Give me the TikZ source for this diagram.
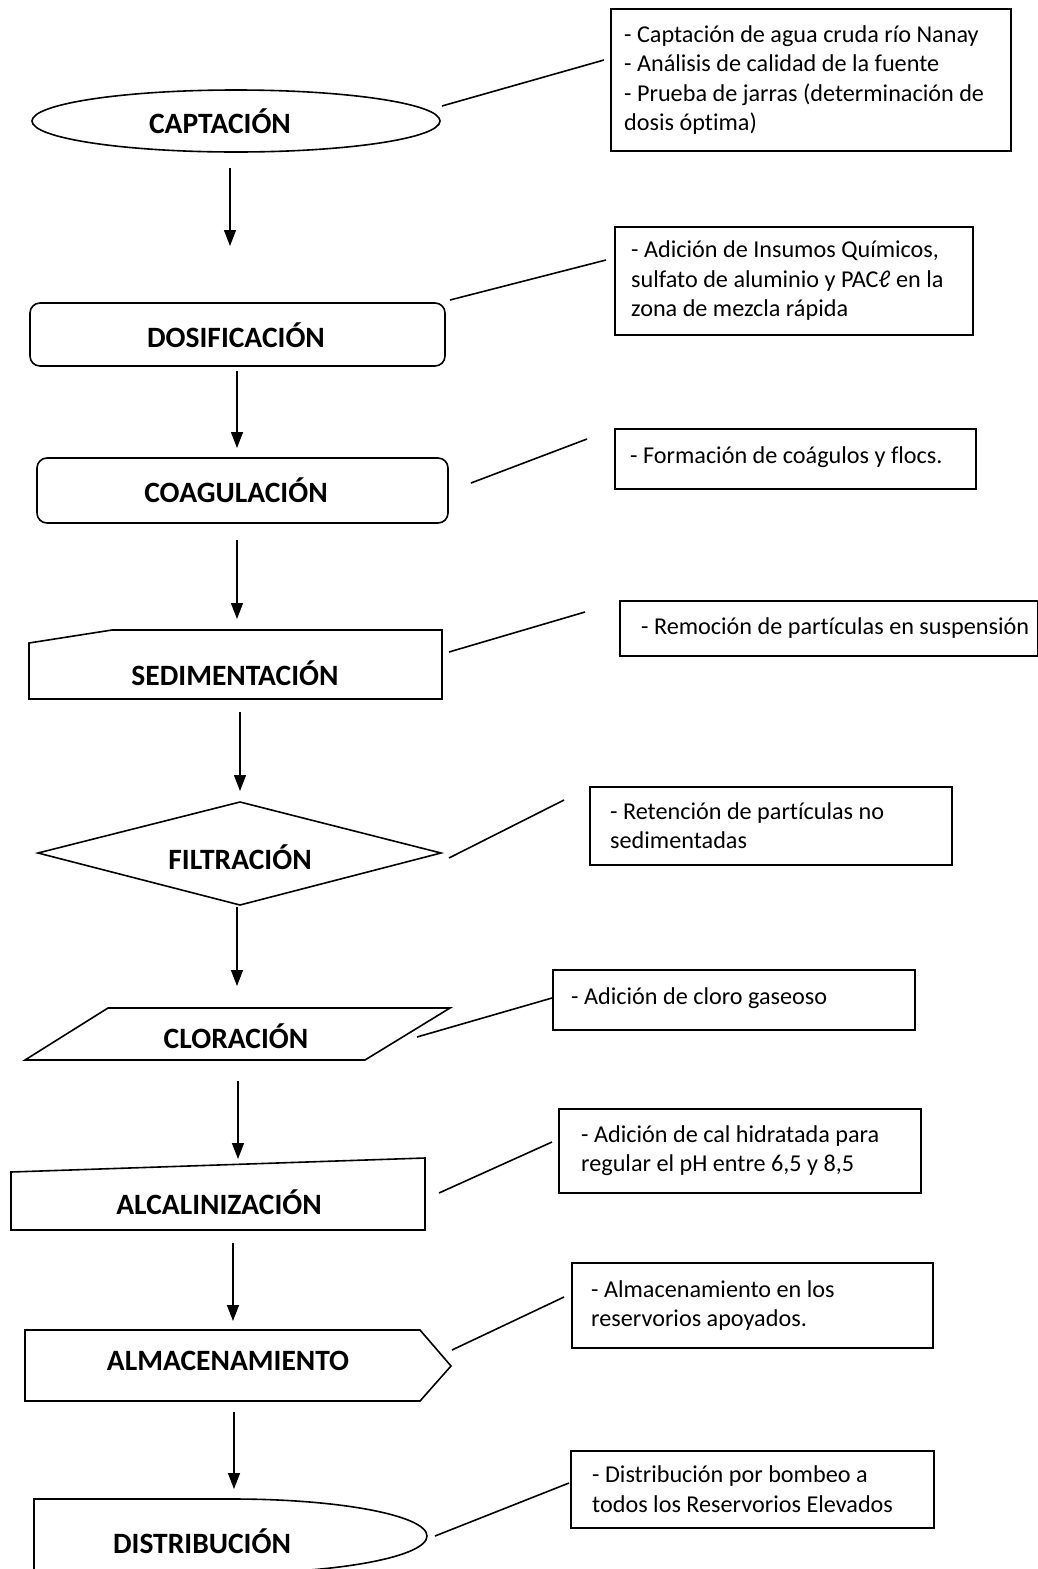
\documentclass[tikz,border=0pt]{standalone}
\usepackage{fontspec}
\setmainfont{Carlito}[Ligatures=NoCommon]
\usetikzlibrary{arrows.meta}
\begin{document}
\begin{tikzpicture}[x=1pt,y=-1pt,
  stage/.style={draw, line width=1.6pt, line join=miter},
  lbl/.style={inner sep=0pt, font=\bfseries\fontsize{29.5}{34}\selectfont},
  info/.style={draw, line width=1.6pt, anchor=north west, inner sep=0pt},
  infotext/.style={anchor=west, align=left, inner sep=0pt, font=\fontsize{24.2}{29.5}\selectfont},
  flow/.style={line width=1.4pt, -{Triangle[length=16pt,width=12pt]}},
  lead/.style={line width=1.6pt}]
\useasboundingbox (0,0) rectangle (1038,1569);
\fill[white] (0,0) rectangle (1038,1569);

% ---------- stage shapes ----------
\draw[stage] (236,121) ellipse [x radius=204pt, y radius=31pt];
\draw[stage, rounded corners=10pt] (30,303) rectangle (445,366);
\draw[stage, rounded corners=10pt] (37,458) rectangle (448,523);
\draw[stage] (29,643) -- (112,630) -- (442,630) -- (442,699) -- (29,699) -- cycle;
\draw[stage] (240,802) -- (441,853) -- (240,905) -- (38,853) -- cycle;
\draw[stage] (108,1008) -- (450,1008) -- (365,1060) -- (25,1060) -- cycle;
\draw[stage] (11,1172) -- (425,1158) -- (425,1230) -- (11,1230) -- cycle;
\draw[stage] (25,1330) -- (420,1330) -- (451,1366) -- (420,1401) -- (25,1401) -- cycle;
\draw[stage] (34,1590) -- (34,1499) -- (233,1499)
   arc[start angle=90, end angle=-90, x radius=194pt, y radius=37pt] -- (34,1573);

% ---------- stage labels ----------
\node[lbl] (captacion) at (220,121) {CAPTACIÓN};
\node[lbl] (dosificacion) at (236,335) {DOSIFICACIÓN};
\node[lbl] (coagulacion) at (236,490) {COAGULACIÓN};
\node[lbl] (sedimentacion) at (235,673) {SEDIMENTACIÓN};
\node[lbl] (filtracion) at (240,857) {FILTRACIÓN};
\node[lbl] (cloracion) at (236,1036) {CLORACIÓN};
\node[lbl] (alcalinizacion) at (219,1202) {ALCALINIZACIÓN};
\node[lbl] (almacenamiento) at (228,1361) {ALMACENAMIENTO};
\node[lbl] (distribucion) at (202,1541) {DISTRIBUCIÓN};

% ---------- info boxes ----------
\node[info, minimum width=400pt, minimum height=142pt] (b1) at (610,8) {};
\node[info, minimum width=358pt, minimum height=108pt] (b2) at (614,226) {};
\node[info, minimum width=361pt, minimum height=60pt] (b3) at (614,428) {};
\node[info, minimum width=418pt, minimum height=55pt] (b4) at (619,600) {};
\node[info, minimum width=362pt, minimum height=78pt] (b5) at (589,786) {};
\node[info, minimum width=362pt, minimum height=60pt] (b6) at (552,969) {};
\node[info, minimum width=362pt, minimum height=84pt] (b7) at (558,1108) {};
\node[info, minimum width=361pt, minimum height=85pt] (b8) at (571,1262) {};
\node[info, minimum width=363pt, minimum height=77pt] (b9) at (570,1450) {};

\node[infotext] (t1) at ([xshift=14pt]b1.west) {- Captación de agua cruda río Nanay\\- Análisis de calidad de la fuente\\- Prueba de jarras (determinación de\\dosis óptima)};
\node[infotext] (t2) at ([xshift=17pt]b2.west) {- Adición de Insumos Químicos,\\sulfato de aluminio y PACℓ en la\\zona de mezcla rápida};
\node[infotext] (t3) at ([xshift=16pt,yshift=2pt]b3.west) {- Formación de coágulos y flocs.};
\node[infotext] (t4) at ([xshift=22pt]b4.west) {- Remoción de partículas en suspensión};
\node[infotext] (t5) at ([xshift=21pt]b5.west) {- Retención de partículas no\\sedimentadas};
\node[infotext] (t6) at ([xshift=19pt,yshift=2pt]b6.west) {- Adición de cloro gaseoso};
\node[infotext] (t7) at ([xshift=23pt]b7.west) {- Adición de cal hidratada para\\regular el pH entre 6,5 y 8,5};
\node[infotext] (t8) at ([xshift=20pt]b8.west) {- Almacenamiento en los\\reservorios apoyados.};
\node[infotext] (t9) at ([xshift=22pt]b9.west) {- Distribución por bombeo a\\todos los Reservorios Elevados};

% ---------- flow arrows ----------
\coordinate (a1s) at (230,168);  \coordinate (a1e) at (230,246);
\coordinate (a2s) at (237,371);  \coordinate (a2e) at (237,448);
\coordinate (a3s) at (237,540);  \coordinate (a3e) at (237,619);
\coordinate (a4s) at (240,712);  \coordinate (a4e) at (240,791);
\coordinate (a5s) at (237,907);  \coordinate (a5e) at (237,986);
\coordinate (a6s) at (238,1081); \coordinate (a6e) at (238,1159);
\coordinate (a7s) at (233,1243); \coordinate (a7e) at (233,1321);
\coordinate (a8s) at (234,1412); \coordinate (a8e) at (234,1489);
\foreach \i in {1,...,8} \draw[flow] (a\i s) -- (a\i e);

% ---------- leader lines ----------
\coordinate (l1s) at (442,106);  \coordinate (l1e) at (604,60);
\coordinate (l2s) at (450,300);  \coordinate (l2e) at (606,260);
\coordinate (l3s) at (471,483);  \coordinate (l3e) at (587,439);
\coordinate (l4s) at (449,652);  \coordinate (l4e) at (585,612);
\coordinate (l5s) at (449,858);  \coordinate (l5e) at (564,800);
\coordinate (l6s) at (417,1037); \coordinate (l6e) at (552,998);
\coordinate (l7s) at (439,1193); \coordinate (l7e) at (552,1142);
\coordinate (l8s) at (452,1350); \coordinate (l8e) at (564,1297);
\coordinate (l9s) at (435,1536); \coordinate (l9e) at (569,1483);
\foreach \i in {1,...,9} \draw[lead] (l\i s) -- (l\i e);
\end{tikzpicture}
\end{document}
